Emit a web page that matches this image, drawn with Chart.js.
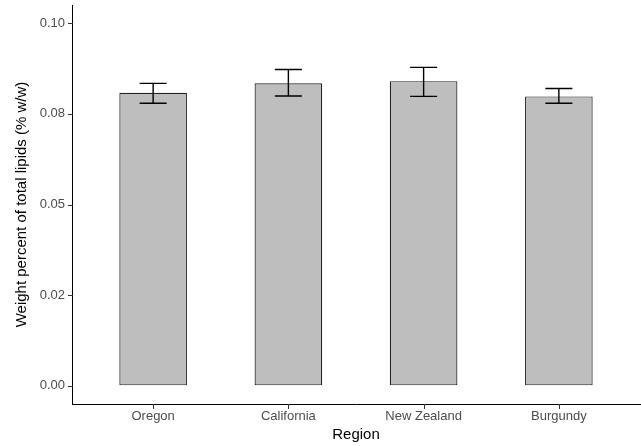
<!DOCTYPE html>
<html>
<head>
<meta charset="utf-8">
<script src="https://cdn.jsdelivr.net/npm/chart.js@4"></script>
<style>
  html, body { margin: 0; padding: 0; background: #fff; }
  #wrap { width: 641px; height: 446px; }
</style>
</head>
<body>
<div id="wrap"><canvas id="chart"></canvas></div>
<script>
// data
const regions = ['Oregon', 'California', 'New Zealand', 'Burgundy'];
const meanValues = [0.0808, 0.0834, 0.0840, 0.0798];
const errLow = [0.0779, 0.0799, 0.0798, 0.0779];
const errHigh = [0.0834, 0.0872, 0.0878, 0.0820];
const yTickValues = [0, 0.025, 0.05, 0.075, 0.1];
const yTickLabels = ['0.00', '0.02', '0.05', '0.08', '0.10'];

const capHalfWidth = 0.1; // in x units, like ggplot width = 0.2
const tickLen = 4;

// error bars + axis tick marks, placed through the chart's own scales
const errorBars = {
    id: 'errorBars',
    afterDatasetsDraw(chart) {
        const { ctx, scales: { x, y } } = chart;
        ctx.save();
        ctx.setLineDash([]);
        ctx.strokeStyle = '#000';
        ctx.lineWidth = 1.4;
        regions.forEach((r, i) => {
            const cx = x.getPixelForValue(i + 1);
            const x0 = x.getPixelForValue(i + 1 - capHalfWidth);
            const x1 = x.getPixelForValue(i + 1 + capHalfWidth);
            const top = y.getPixelForValue(errHigh[i]);
            const bot = y.getPixelForValue(errLow[i]);
            ctx.beginPath();
            ctx.moveTo(cx, top); ctx.lineTo(cx, bot);
            ctx.moveTo(x0, top); ctx.lineTo(x1, top);
            ctx.moveTo(x0, bot); ctx.lineTo(x1, bot);
            ctx.stroke();
        });

        // tick marks
        ctx.fillStyle = '#333';
        const axisY = Math.round(chart.chartArea.bottom);
        const axisX = Math.round(chart.chartArea.left);
        regions.forEach((r, i) => {
            const px = Math.round(x.getPixelForValue(i + 1));
            ctx.fillRect(px, axisY, 1, tickLen + 1);
        });
        yTickValues.forEach(v => {
            const py = Math.round(y.getPixelForValue(v));
            ctx.fillRect(axisX - tickLen, py, tickLen + 1, 1);
        });
        ctx.restore();
    }
};

const ctx = document.getElementById('chart').getContext('2d');
new Chart(ctx, {
    type: 'bar',
    data: {
        datasets: [{
            data: meanValues.map((v, i) => ({ x: i + 1, y: v })),
            backgroundColor: '#bebebe',
            borderColor: '#222',
            borderWidth: 1.2,
            borderSkipped: false,
            categoryPercentage: 1,
            barPercentage: 0.5
        }]
    },
    options: {
        responsive: true,
        maintainAspectRatio: false,
        animation: false,
        layout: { padding: { top: 5, right: 1, left: 0, bottom: 0 } },
        plugins: { legend: { display: false }, tooltip: { enabled: false } },
        scales: {
            x: {
                type: 'linear',
                min: 0.4,
                max: 4.6,
                offset: false,
                afterBuildTicks: (scale) => {
                    scale.ticks = regions.map((r, i) => ({ value: i + 1 }));
                },
                afterFit: (scale) => {
                    scale.height = 42;
                    scale.paddingLeft = 0;
                    scale.paddingRight = 0;
                },
                grid: { offset: false, drawOnChartArea: false, drawTicks: false },
                border: { display: true, color: '#000', width: 1 },
                ticks: {
                    color: '#4d4d4d',
                    font: { family: 'Liberation Sans', size: 13 },
                    padding: 5,
                    maxRotation: 0,
                    autoSkip: false,
                    callback: (v) => regions[v - 1]
                },
                title: {
                    display: true,
                    text: 'Region',
                    color: '#000',
                    font: { family: 'Liberation Sans', size: 15 },
                    padding: { top: 0, bottom: 2 }
                }
            },
            y: {
                min: -0.005,
                max: 0.105,
                afterBuildTicks: (scale) => {
                    scale.ticks = yTickValues.map(v => ({ value: v }));
                },
                afterFit: (scale) => {
                    scale.width = 72;
                    scale.paddingTop = 0;
                    scale.paddingBottom = 0;
                },
                grid: { drawOnChartArea: false, drawTicks: false },
                border: { display: true, color: '#000', width: 1 },
                ticks: {
                    color: '#4d4d4d',
                    font: { family: 'Liberation Sans', size: 13 },
                    padding: 7,
                    callback: (v) => yTickLabels[yTickValues.indexOf(v)]
                },
                title: {
                    display: true,
                    text: 'Weight percent of total lipids (% w/w)',
                    color: '#000',
                    font: { family: 'Liberation Sans', size: 15 },
                    padding: { top: 13, bottom: 0 }
                }
            }
        }
    },
    plugins: [errorBars]
});
</script>
</body>
</html>
